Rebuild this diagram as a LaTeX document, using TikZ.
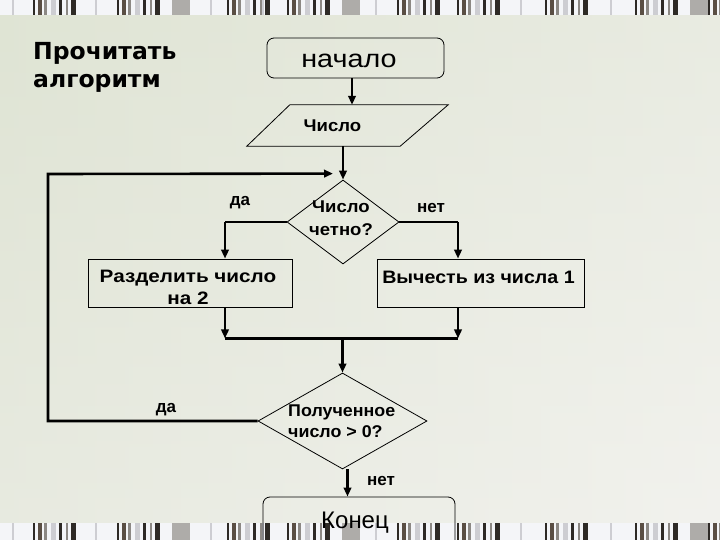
\documentclass[tikz,border=0pt]{standalone}
\usepackage{fontspec}
\setmainfont{Liberation Sans}
\newfontfamily\titlefont{DejaVu Sans}
\newfontfamily\wideA[FakeStretch=1.15]{Liberation Sans}
\newfontfamily\wideB[FakeStretch=1.09]{Liberation Sans}
\newfontfamily\wideC[FakeStretch=1.05]{Liberation Sans}
\usetikzlibrary{shapes.geometric,arrows.meta,calc}
\definecolor{bgtop}{HTML}{DFE4D4}
\definecolor{bgbot}{HTML}{F2F2EE}
\definecolor{bandbg}{HTML}{F4F5F8}
\definecolor{bdark}{HTML}{2E2A26}
\definecolor{bbrown}{HTML}{5A4E44}
\definecolor{bmid}{HTML}{8C8884}
\definecolor{blight}{HTML}{CDCDD2}
\begin{document}
\begin{tikzpicture}[x=1pt,y=-1pt,
  conn/.style={line width=2.6pt},
  arr/.style={conn,-{Triangle[length=9pt,width=7.5pt]}},
  outline/.style={draw=black,line width=0.8pt},
  roundbox/.style={outline,rounded corners=7pt,inner sep=0pt},
  procbox/.style={outline,inner sep=0pt},
  decision/.style={outline,diamond,inner sep=0pt},
  lbl/.style={font=\fontsize{17}{19}\selectfont\bfseries,inner sep=0pt,anchor=base},
  bigtxt/.style={inner sep=0pt,anchor=base}]
\useasboundingbox (0,0) rectangle (720,540);
% background
\shade[top color=bgtop,bottom color=bgbot] (0,0) rectangle (720,540);
\shade[left color=bgtop,right color=bgbot,opacity=0.5] (0,0) rectangle (720,540);
% decorative bands
\fill[bandbg] (0,0) rectangle (720,15);
\fill[bandbg] (0,523) rectangle (720,540);
\foreach \gx in {33,117,227,287,397,457,545,635,708}{
  \foreach \o/\w/\c in {0/2/bdark,5/4/bbrown,11/3/bmid,18/5/blight,26/3/bdark,33/2/bmid,38/5/bdark}{
    \fill[\c] (\gx+\o,0) rectangle ++(\w,15);
    \fill[\c] (\gx+\o,523) rectangle ++(\w,17);
  }
}
\foreach \gx in {172,342,690}{
  \fill[bmid!70] (\gx,0) rectangle ++(18,15);
  \fill[bmid!70] (\gx,523) rectangle ++(18,17);
}
\foreach \gx in {12,95,210,262,375,520,610}{
  \fill[blight] (\gx,0) rectangle ++(2,15);
  \fill[blight] (\gx,523) rectangle ++(2,17);
}
% title
\node[anchor=west,font=\titlefont\fontsize{23.5}{28}\selectfont\bfseries,align=left,inner sep=0pt] (title) at (33,67) {Прочитать\\алгоритм};
% nodes
\node[roundbox,minimum width=177,minimum height=40] (start) at (355.5,58) {};
\node[bigtxt,font=\wideA\fontsize{25}{28}\selectfont] (starttxt) at (349,68) {начало};
\node[inner sep=0pt,minimum width=201,minimum height=41] (input) at (347.5,125.5) {};
\draw[outline] (input.south west) -- ($(input.north west)+(43,0)$) -- (input.north east) -- ($(input.south east)+(-48,0)$) -- cycle;
\node[bigtxt,font=\wideB\fontsize{17}{19}\selectfont\bfseries] (inputtxt) at (332.5,132) {Число};
\node[decision,minimum width=112,minimum height=84] (d1) at (343,222) {};
\node[inner sep=0pt,font=\wideB\fontsize{17}{23}\selectfont\bfseries,align=center] (d1txt) at (341,218.5) {Число\\четно?};
\node[procbox,minimum width=204,minimum height=48] (b1) at (190,283) {};
\node[inner sep=0pt,font=\wideA\fontsize{18}{22}\selectfont\bfseries,align=center] (b1txt) at (188,287.5) {Разделить число\\на 2};
\node[procbox,minimum width=207,minimum height=48] (b2) at (480.5,283) {};
\node[bigtxt,font=\wideB\fontsize{18}{21}\selectfont\bfseries] (b2txt) at (478.5,283) {Вычесть из числа 1};
\node[decision,minimum width=169,minimum height=96] (d2) at (342.5,421) {};
\node[inner sep=0pt,font=\wideC\fontsize{17}{21}\selectfont\bfseries,align=left,anchor=west] (d2txt) at (288,421.5) {Полученное\\число > 0?};
\node[roundbox,minimum width=192,minimum height=64] (end) at (359,529) {};
\node[bigtxt,font=\fontsize{24}{28}\selectfont] (endtxt) at (355,528) {Конец};
% labels
\node[lbl] (yes1) at (240,206) {да};
\node[lbl] (no1) at (431,213) {нет};
\node[lbl] (yes2) at (166,412) {да};
\node[lbl] (no2) at (381,485) {нет};
% connectors
\draw[arr] ([xshift=-3.5pt]start.south) -- ([xshift=-3.5pt]start.south |- input.north);
\draw[arr] (input.south -| d1.north) -- (d1.north);
\draw[conn] (d1.west) -| ([xshift=35pt]b1.south |- d1.west);
\draw[arr] ([xshift=35pt]b1.north |- d1.west) -- ([xshift=35pt]b1.north);
\draw[conn] (d1.east) -| ([xshift=-22.5pt]b2.north |- d1.east);
\draw[arr] ([xshift=-22.5pt]b2.north |- d1.east) -- ([xshift=-22.5pt]b2.north);
\coordinate (mergeL) at ($(b1.south)+(35,31)$);
\coordinate (mergeR) at ($(b2.south)+(-22.5,31)$);
\draw[arr] ([xshift=35pt]b1.south) -- (mergeL);
\draw[arr] ([xshift=-22.5pt]b2.south) -- (mergeR);
\draw[conn] (mergeL) -- (mergeR);
\draw[arr] (mergeL -| d2.north) -- (d2.north);
\coordinate (loopend) at ($(d1.north)+(-10,-6)$);
\draw[arr] (d2.west) -- (48,421) -- (48,174) -- (loopend);
\draw[arr] ([xshift=5pt]d2.south) -- ([xshift=5pt]d2.south |- end.north);
\end{tikzpicture}
\end{document}
